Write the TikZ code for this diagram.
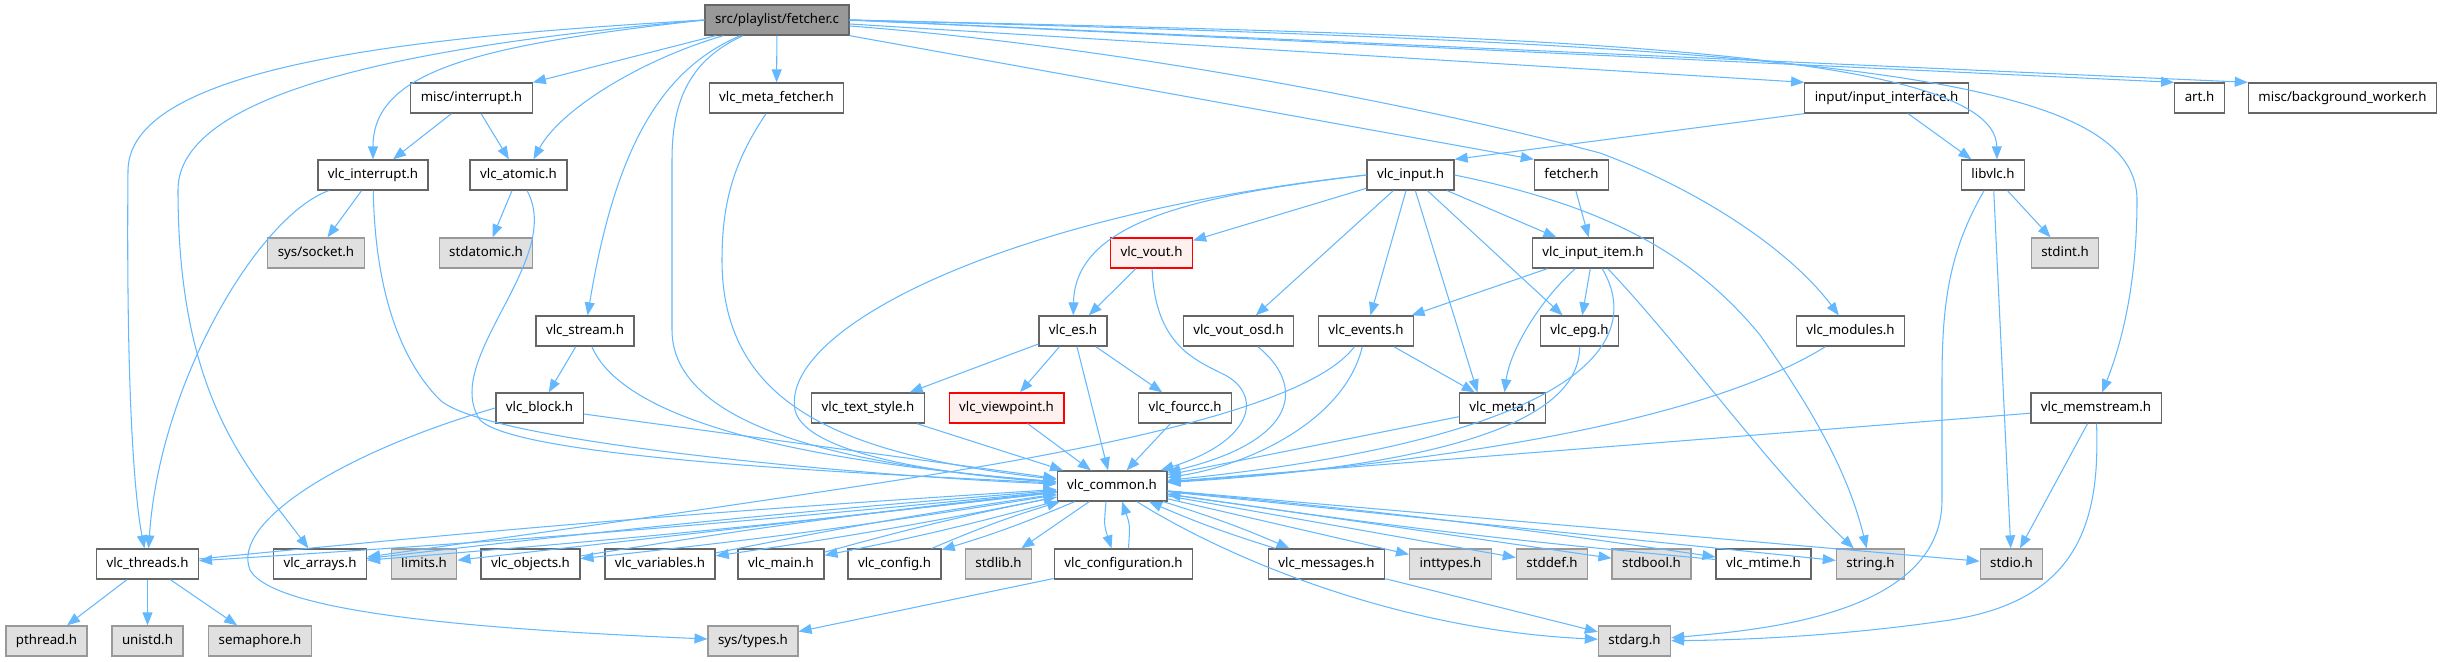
\documentclass[tikz,border=0pt]{standalone}
\usepackage{fontspec}
\setmainfont{Noto Sans}
\usetikzlibrary{arrows.meta,calc}
\definecolor{edgeblue}{HTML}{63B8FF}

\begin{document}
\begin{tikzpicture}[x=0.02cm, y=-0.02cm,
    hnode/.style={draw=black!60, fill=white, line width=0.75pt, minimum height=0.6cm, inner xsep=0.2cm, inner ysep=0pt, text height=5.8pt, text depth=1.6pt, font=\fontsize{7.56}{9}\selectfont},
    sysnode/.style={hnode, draw=black!40, fill=black!12},
    rootnode/.style={hnode, fill=black!40},
    rednode/.style={hnode, draw=red, fill=red!6},
    inc/.style={-{Triangle[length=0.26cm, width=0.2cm]}, draw=edgeblue, line width=0.6pt}
]
\useasboundingbox (0,0) rectangle (2441,662);

% rows of headers
\node[rootnode] (fetch) at (777,20) {src/playlist/fetcher.c};

\node[hnode] (misc_int) at (471.5,98) {misc/interrupt.h};
\node[hnode] (metafetch) at (776.5,98) {vlc\_meta\_fetcher.h};
\node[hnode] (inputif) at (1886.5,98) {input/input\_interface.h};
\node[hnode] (art) at (2199.5,98) {art.h};
\node[hnode] (bgworker) at (2342.5,98) {misc/background\_worker.h};

\node[hnode] (vinterrupt) at (373,175) {vlc\_interrupt.h};
\node[hnode] (atomic) at (518.5,175) {vlc\_atomic.h};
\node[hnode] (vinput) at (1410.5,175) {vlc\_input.h};
\node[hnode] (fetcherh) at (1571.5,175) {fetcher.h};
\node[hnode] (libvlc) at (1993,175) {libvlc.h};

\node[sysnode] (socket) at (316,253) {sys/socket.h};
\node[sysnode] (stdatomic) at (486,253) {stdatomic.h};
\node[rednode] (vout) at (1151.5,253) {vlc\_vout.h};
\node[hnode] (inputitem) at (1593,253) {vlc\_input\_item.h};
\node[sysnode] (stdint) at (2065,253) {stdint.h};

\node[hnode] (stream) at (585,331) {vlc\_stream.h};
\node[hnode] (es) at (1073,331) {vlc\_es.h};
\node[hnode] (voutosd) at (1238.5,331) {vlc\_vout\_osd.h};
\node[hnode] (events) at (1366,331) {vlc\_events.h};
\node[hnode] (epg) at (1579.5,331) {vlc\_epg.h};
\node[hnode] (modules) at (1850.5,331) {vlc\_modules.h};

\node[hnode] (block) at (539.5,408) {vlc\_block.h};
\node[hnode] (textstyle) at (868,408) {vlc\_text\_style.h};
\node[rednode] (viewpoint) at (1006.5,408) {vlc\_viewpoint.h};
\node[hnode] (fourcc) at (1185,408) {vlc\_fourcc.h};
\node[hnode] (meta) at (1502.5,408) {vlc\_meta.h};
\node[hnode] (memstream) at (2096,408) {vlc\_memstream.h};

\node[hnode] (common) at (1112,486) {vlc\_common.h};

\node[hnode] (threads) at (147.5,564) {vlc\_threads.h};
\node[hnode] (arrays) at (320,564) {vlc\_arrays.h};
\node[sysnode] (limits) at (424,564) {limits.h};
\node[hnode] (objects) at (530.5,564) {vlc\_objects.h};
\node[hnode] (variables) at (660,564) {vlc\_variables.h};
\node[hnode] (main) at (781,564) {vlc\_main.h};
\node[hnode] (config) at (894.5,564) {vlc\_config.h};
\node[sysnode] (stdlib) at (998.5,564) {stdlib.h};
\node[hnode] (configuration) at (1123.5,564) {vlc\_configuration.h};
\node[hnode] (messages) at (1326.5,564) {vlc\_messages.h};
\node[sysnode] (inttypes) at (1450.5,564) {inttypes.h};
\node[sysnode] (stddef) at (1552,564) {stddef.h};
\node[sysnode] (stdbool) at (1651.5,564) {stdbool.h};
\node[hnode] (mtime) at (1763.5,564) {vlc\_mtime.h};
\node[sysnode] (string) at (1870.5,564) {string.h};
\node[sysnode] (stdio) at (2011.5,564) {stdio.h};

\node[sysnode] (pthread) at (46.5,641) {pthread.h};
\node[sysnode] (unistd) at (147.5,641) {unistd.h};
\node[sysnode] (semaphore) at (260,641) {semaphore.h};
\node[sysnode] (systypes) at (753,641) {sys/types.h};
\node[sysnode] (stdarg) at (1634.5,641) {stdarg.h};

% includes of fetcher.c
\draw[inc] (fetch.west) .. controls (450,35) and (130,60) .. (128,170) .. controls (126,400) and (135,500) .. (threads);
\draw[inc] (fetch.west) .. controls (420,45) and (178,90) .. (178,190) .. controls (178,400) and (250,470) .. (arrays);
\draw[inc] (fetch.west) .. controls (480,45) and (373,70) .. (vinterrupt);
\draw[inc] (fetch) -- (misc_int);
\draw[inc] (fetch) .. controls (640,60) and (560,110) .. ($(atomic.north)+(15,0)$);
\draw[inc] (fetch) .. controls (660,70) and (615,150) .. (stream);
\draw[inc] (fetch) .. controls (690,60) and (672,100) .. (672,160) -- (672,330) .. controls (672,440) and (900,470) .. (common);
\draw[inc] (fetch) -- (metafetch);
\draw[inc] (fetch.south east) -- (fetcherh.north west);
\draw[inc] ($(fetch.east)+(0,4)$) -- (inputif.north west);
\draw[inc] ($(fetch.east)+(0,6)$) .. controls (1100,45) and (1400,100) .. (1600,153) .. controls (1700,190) and (1790,250) .. (modules);
\draw[inc] (fetch.east) .. controls (1500,35) and (1995,45) .. ($(libvlc.north)+(4,0)$);
\draw[inc] (fetch.east) -- (art.north west);
\draw[inc] (fetch.east) -- (bgworker.north west);
\draw[inc] (fetch.east) .. controls (1800,45) and (2137,70) .. (2137,200) .. controls (2137,300) and (2115,360) .. (memstream);

% second level
\draw[inc] (misc_int) -- (vinterrupt);
\draw[inc] (misc_int) -- (atomic);
\draw[inc] (vinterrupt) -- (socket);
\draw[inc] (vinterrupt) .. controls (260,215) and (160,380) .. (threads);
\draw[inc] (vinterrupt) .. controls (375,290) and (400,360) .. (440,400) .. controls (490,445) and (900,478) .. (common);
\draw[inc] (atomic) -- (stdatomic);
\draw[inc] (atomic) .. controls (565,260) and (440,360) .. (480,420) .. controls (520,460) and (900,475) .. (common);
\draw[inc] (metafetch) .. controls (735,160) and (722,200) .. (722,260) .. controls (722,410) and (850,455) .. (common);
\draw[inc] (stream) -- (block);
\draw[inc] (stream) .. controls (615,400) and (720,455) .. (common);
\draw[inc] (block) -- (common);
\draw[inc] (block.west) .. controls (350,450) and (230,520) .. (250,570) .. controls (275,615) and (500,630) .. (systypes);
\draw[inc] (inputif.south west) -- (vinput.north east);
\draw[inc] (inputif) -- (libvlc);
\draw[inc] (fetcherh) -- (inputitem);
\draw[inc] (libvlc) -- (stdint);
\draw[inc] (libvlc) -- (stdio);
\draw[inc] (libvlc) .. controls (1950,250) and (1942,300) .. (1942,380) -- (1942,500) .. controls (1942,615) and (1760,630) .. (stdarg);

% vlc_input.h and below
\draw[inc] (vinput) -- (vout);
\draw[inc] (vinput.west) .. controls (1200,195) and (1075,220) .. (es);
\draw[inc] (vinput.west) .. controls (1000,215) and (780,330) .. (795,410) .. controls (805,455) and (950,475) .. (common);
\draw[inc] (vinput) -- (voutosd);
\draw[inc] (vinput) -- (events);
\draw[inc] (vinput) -- ($(meta.north)+(-25,0)$);
\draw[inc] (vinput) -- (epg);
\draw[inc] (vinput) -- (inputitem);
\draw[inc] (vinput.east) .. controls (1600,205) and (1690,250) .. (1760,335) .. controls (1820,420) and (1850,480) .. (string);
\draw[inc] (vout) -- (es);
\draw[inc] (vout) .. controls (1155,345) and (1195,360) .. (1225,375) .. controls (1262,395) and (1255,440) .. (common);
\draw[inc] (es) -- (textstyle);
\draw[inc] (es) -- (viewpoint);
\draw[inc] (es) -- (fourcc);
\draw[inc] (es) -- (common);
\draw[inc] (textstyle) -- (common);
\draw[inc] (viewpoint) -- (common);
\draw[inc] (fourcc) -- (common);
\draw[inc] (voutosd) .. controls (1305,385) and (1300,440) .. (common);
\draw[inc] (events) -- (meta);
\draw[inc] (events) .. controls (1345,420) and (1250,465) .. (common);
\draw[inc] (events) .. controls (1300,420) and (1000,465) .. (800,495) .. controls (600,525) and (450,545) .. (arrays);
\draw[inc] (inputitem) -- (events);
\draw[inc] (inputitem) -- (epg);
\draw[inc] (inputitem) .. controls (1540,300) and (1510,350) .. (meta);
\draw[inc] (inputitem) .. controls (1650,350) and (1560,440) .. (common);
\draw[inc] (inputitem) .. controls (1685,350) and (1770,470) .. (string);
\draw[inc] (epg) .. controls (1580,420) and (1450,465) .. (common);
\draw[inc] (modules) .. controls (1740,400) and (1550,455) .. (common);
\draw[inc] (meta) -- (common);
\draw[inc] (memstream) -- (stdio);
\draw[inc] (memstream) .. controls (2100,520) and (2080,600) .. (1950,620) .. controls (1850,635) and (1750,640) .. (stdarg);
\draw[inc] (memstream) -- (common);

% includes of vlc_common.h
\foreach \t in {limits, stdlib, inttypes, stddef, stdbool, string, stdio}
  \draw[inc] (common) -- (\t);
\foreach \t/\b in {threads/1, arrays/1, objects/1.5, variables/1.5, main/2, config/3, messages/3, mtime/1.5} {
  \draw[inc] (common) to[bend left=\b] (\t);
  \draw[inc] (\t) to[bend left=\b] (common);
}
\draw[inc] ($(common.south)+(-6,0)$) .. controls (1104,525) .. ($(configuration.north)+(-12,0)$);
\draw[inc] ($(configuration.north)+(5,0)$) .. controls (1130,525) .. ($(common.south)+(10,0)$);
\draw[inc] (common) .. controls (1230,560) and (1400,630) .. (stdarg);
\draw[inc] (messages) -- (stdarg);
\draw[inc] (configuration) -- (systypes);
\draw[inc] (threads) -- (pthread);
\draw[inc] (threads) -- (unistd);
\draw[inc] (threads) -- (semaphore);
\end{tikzpicture}
\end{document}
